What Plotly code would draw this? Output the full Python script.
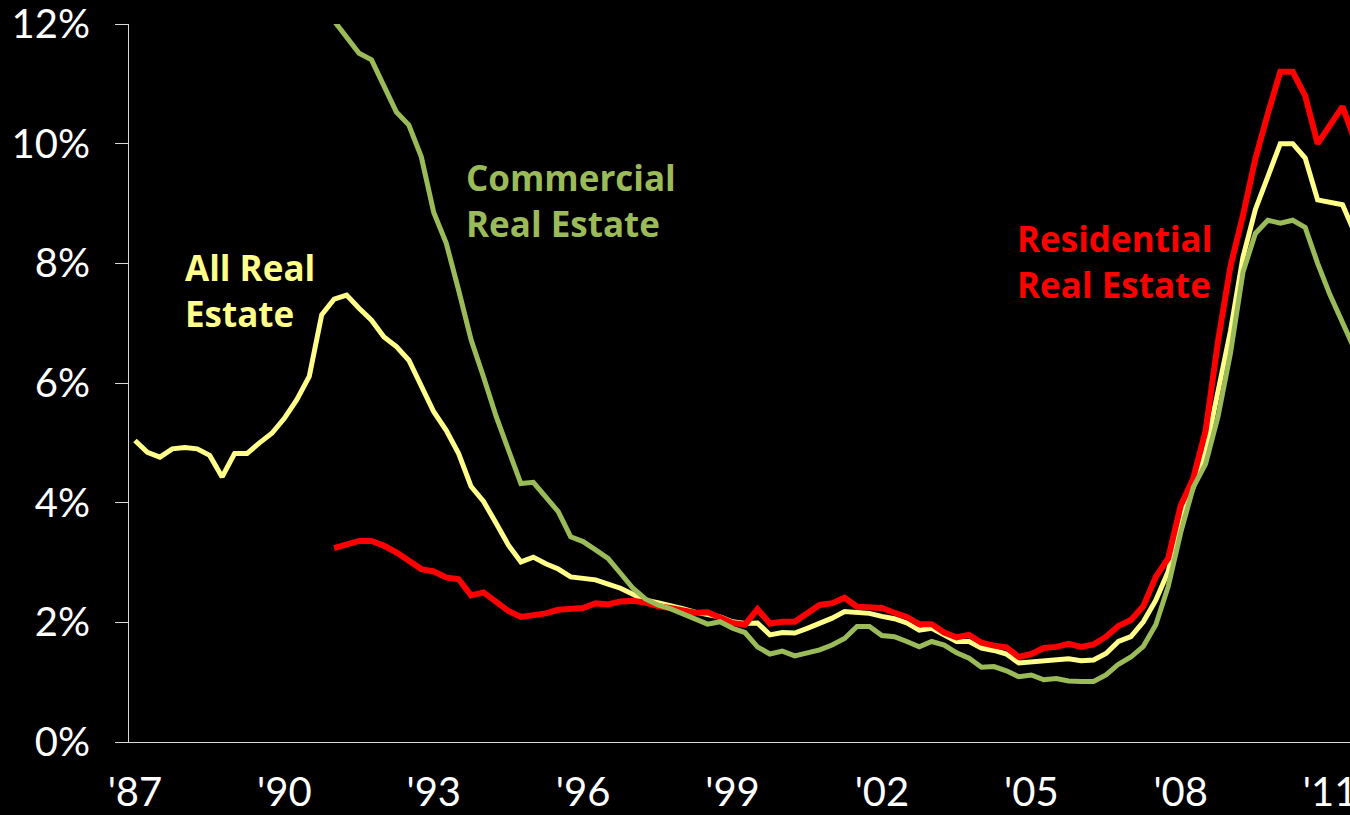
import plotly.graph_objects as go

# Quarterly delinquency rates (%), All real estate from 1987Q1, others from 1991Q1
all_re = [
    5.04, 4.84, 4.76, 4.90,
    4.92, 4.90, 4.79, 4.43,
    4.82, 4.82, 5.00, 5.16,
    5.41, 5.72, 6.11, 7.14,
    7.40, 7.47, 7.25, 7.05,
    6.77, 6.61, 6.38, 5.94,
    5.52, 5.21, 4.82, 4.27,
    4.02, 3.66, 3.29, 3.01,
    3.09, 2.98, 2.89, 2.76,
    2.74, 2.71, 2.64, 2.57,
    2.47, 2.37, 2.33, 2.29,
    2.23, 2.17, 2.14, 2.09,
    2.01, 1.98, 1.99, 1.79,
    1.83, 1.82, 1.90, 1.98,
    2.07, 2.18, 2.17, 2.15,
    2.10, 2.06, 1.99, 1.87,
    1.90, 1.79, 1.68, 1.68,
    1.57, 1.53, 1.47, 1.32,
    1.34, 1.37, 1.38, 1.39,
    1.36, 1.37, 1.48, 1.68,
    1.76, 2.01, 2.37, 2.85,
    3.80, 4.25, 4.85, 5.85,
    6.87, 8.10, 8.90, 9.45,
    10.00, 10.00, 9.76, 9.06,
    9.01, 8.98, 8.50,
]

commercial_re = [
    12.05, 11.79, 11.51, 11.40,
    10.95, 10.53, 10.31, 9.78,
    8.85, 8.34, 7.55, 6.72,
    6.10, 5.45, 4.88, 4.32,
    4.34, 4.10, 3.85, 3.43,
    3.35, 3.21, 3.07, 2.82,
    2.57, 2.39, 2.29, 2.23,
    2.15, 2.05, 1.97, 2.01,
    1.90, 1.83, 1.59, 1.47,
    1.52, 1.44, 1.48, 1.54,
    1.62, 1.73, 1.93, 1.93,
    1.78, 1.76, 1.68, 1.59,
    1.68, 1.62, 1.49, 1.40,
    1.25, 1.26, 1.19, 1.09,
    1.12, 1.04, 1.06, 1.02,
    1.01, 1.01, 1.12, 1.30,
    1.42, 1.60, 1.96, 2.60,
    3.50, 4.25, 4.65, 5.44,
    6.50, 7.85, 8.50, 8.72,
    8.67, 8.72, 8.60, 8.00,
    7.47, 7.00, 6.55,
]

residential_re = [
    3.24, 3.30, 3.36, 3.36,
    3.28, 3.17, 3.02, 2.89,
    2.85, 2.75, 2.72, 2.45,
    2.50, 2.33, 2.19, 2.09,
    2.12, 2.15, 2.21, 2.23,
    2.24, 2.32, 2.30, 2.35,
    2.36, 2.33, 2.27, 2.24,
    2.21, 2.16, 2.17, 2.09,
    1.99, 1.96, 2.22, 1.98,
    2.01, 2.01, 2.15, 2.29,
    2.32, 2.41, 2.26, 2.25,
    2.24, 2.16, 2.09, 1.97,
    1.97, 1.83, 1.75, 1.79,
    1.66, 1.61, 1.58, 1.42,
    1.47, 1.57, 1.59, 1.64,
    1.59, 1.63, 1.76, 1.94,
    2.04, 2.27, 2.76, 3.07,
    3.95, 4.40, 5.20, 6.70,
    7.95, 8.80, 9.75, 10.50,
    11.20, 11.20, 10.80, 10.00,
    10.30, 10.62, 10.05,
]

start_all = 1987
start_split = 1991
tick_years = [1987, 1990, 1993, 1996, 1999, 2002, 2005, 2008, 2011]
tick_labels = ["'87", "'90", "'93", "'96", "'99", "'02", "'05", "'08", "'11"]
y_ticks = [0, 2, 4, 6, 8, 10, 12]
y_tick_labels = ["0%", "2%", "4%", "6%", "8%", "10%", "12%"]

x_all = [start_all + i / 4 for i in range(len(all_re))]
x_com = [start_split + i / 4 for i in range(len(commercial_re))]
x_res = [start_split + i / 4 for i in range(len(residential_re))]

YELLOW = "#FFFF8A"
GREEN = "#9BBB59"
RED = "#FF0000"

fig = go.Figure()
fig.add_trace(go.Scatter(x=x_all, y=all_re, mode="lines", name="All Real Estate",
                         line=dict(color=YELLOW, width=5)))
fig.add_trace(go.Scatter(x=x_res, y=residential_re, mode="lines", name="Residential Real Estate",
                         line=dict(color=RED, width=6)))
fig.add_trace(go.Scatter(x=x_com, y=commercial_re, mode="lines", name="Commercial Real Estate",
                         line=dict(color=GREEN, width=5)))

L, R, T, B = 129, 0, 24, 73
W, H = 1350, 815
pw, ph = W - L - R, H - T - B

def px(xp):
    return (xp - L) / pw

def py(yp):
    return (H - B - yp) / ph

ann_font = "Open Sans"
ann_size = 35
fig.add_annotation(text="<b>All Real<br>Estate</b>", x=px(183), y=py(242), xref="paper", yref="paper",
                   xanchor="left", yanchor="top", align="left", showarrow=False,
                   font=dict(family=ann_font, size=ann_size, color=YELLOW))
fig.add_annotation(text="<b>Commercial<br>Real Estate</b>", x=px(464), y=py(152), xref="paper", yref="paper",
                   xanchor="left", yanchor="top", align="left", showarrow=False,
                   font=dict(family=ann_font, size=ann_size, color=GREEN))
fig.add_annotation(text="<b>Residential<br>Real Estate</b>", x=px(1015), y=py(213), xref="paper", yref="paper",
                   xanchor="left", yanchor="top", align="left", showarrow=False,
                   font=dict(family=ann_font, size=ann_size, color=RED))

axis_col = "#D9D9D9"
fig.update_layout(
    width=W, height=H,
    margin=dict(l=L, r=R, t=T, b=B, pad=0, autoexpand=False),
    paper_bgcolor="black", plot_bgcolor="black",
    showlegend=False,
    font=dict(family="Lato", size=40, color="white"),
    xaxis=dict(range=[1986.88, 2011.40], tickmode="array", tickvals=tick_years, ticktext=tick_labels,
               showgrid=False, zeroline=False, showline=True, linecolor=axis_col, linewidth=1,
               ticks="", ticklabelstandoff=15, ticklabeloverflow="allow", automargin=False,
               tickfont=dict(family="Lato", size=40, color="white")),
    yaxis=dict(range=[0, 12], tickmode="array", tickvals=y_ticks, ticktext=y_tick_labels,
               showgrid=False, zeroline=False, showline=True, linecolor=axis_col, linewidth=1,
               ticks="outside", ticklen=13, tickcolor=axis_col, tickwidth=1,
               ticklabelstandoff=17, ticklabeloverflow="allow", automargin=False,
               tickfont=dict(family="Lato", size=40, color="white")),
)

fig.write_html(
    "out.html",
    config={"displayModeBar": False},
    post_script="document.body.style.margin='0';document.body.style.padding='0';"
                "document.body.style.background='black';"
                "document.documentElement.style.overflow='hidden';",
)
